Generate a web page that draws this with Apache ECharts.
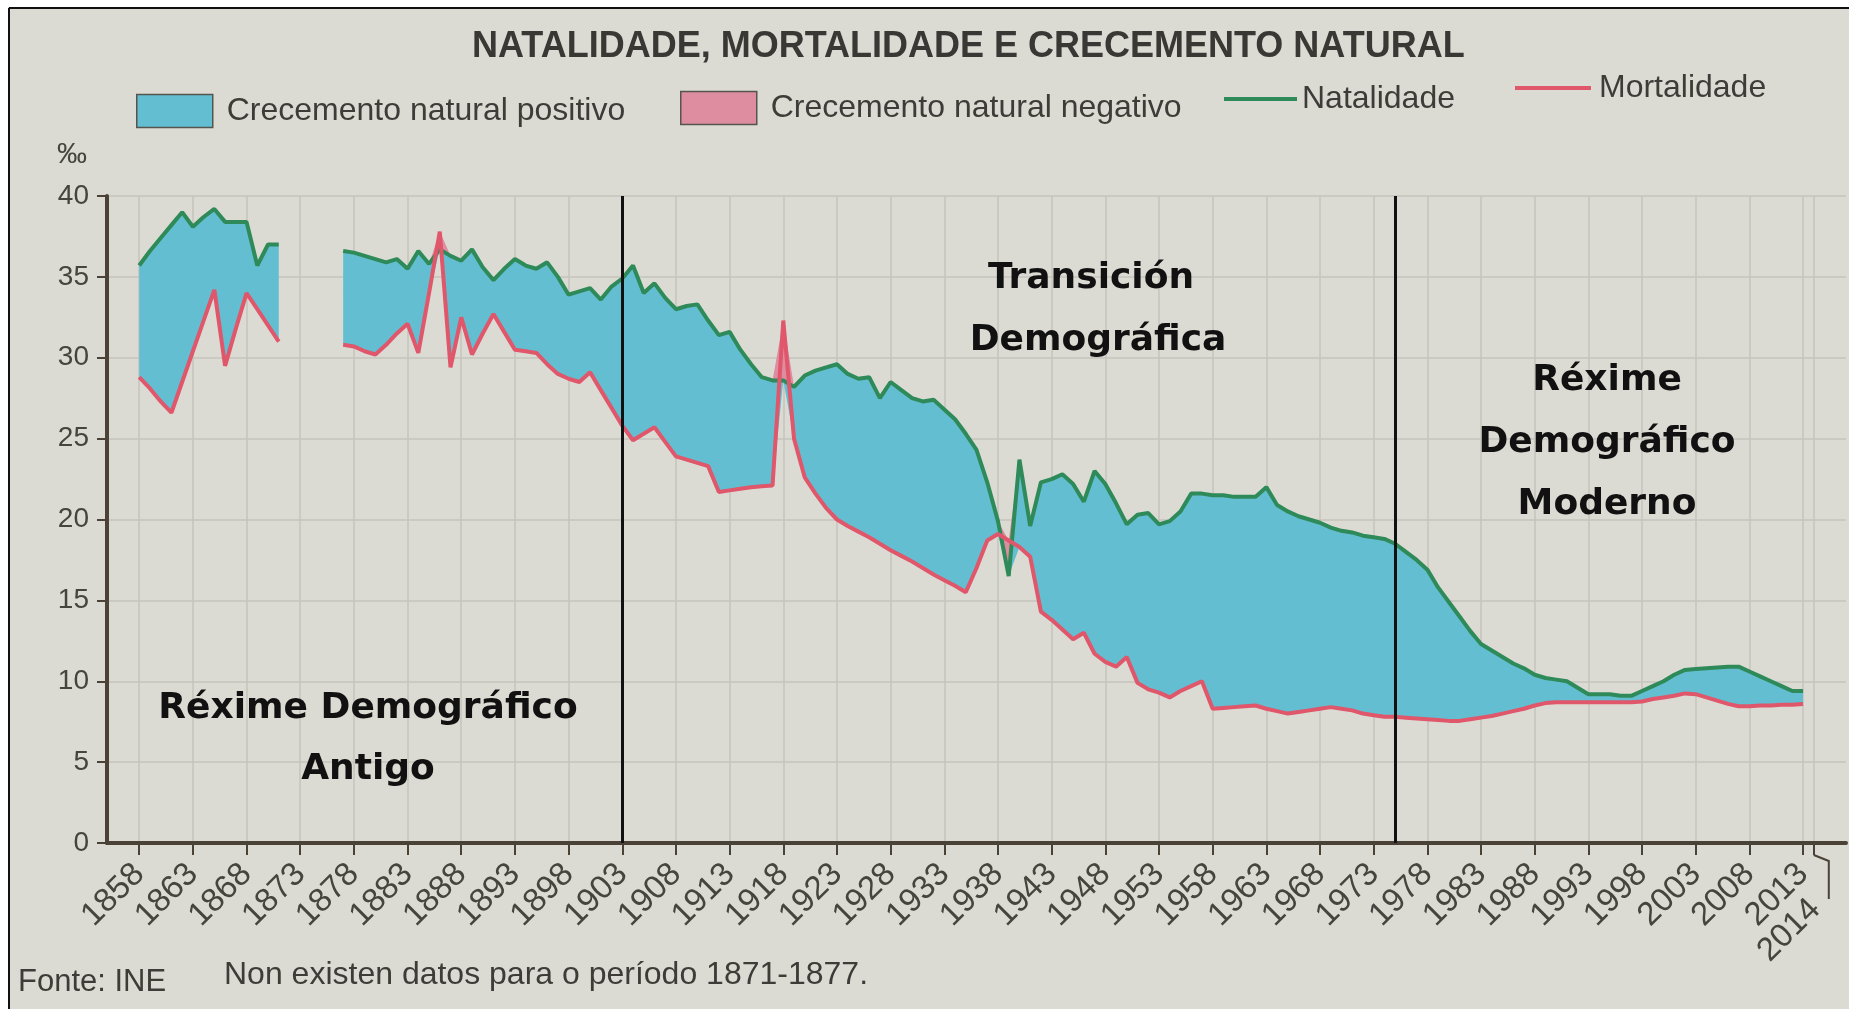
<!DOCTYPE html>
<html>
<head>
<meta charset="utf-8">
<title>Natalidade, mortalidade e crecemento natural</title>
<script src="https://cdn.jsdelivr.net/npm/echarts@6/dist/echarts.min.js"></script>
<style>
  html, body { margin: 0; padding: 0; background: #fff; }
  #chart { width: 1849px; height: 1009px; }
</style>
</head>
<body>
<div id="chart"></div>
<script>
// eixo X: anos (a escala vai un pouco máis alá dos datos)
const firstYear = 1855
const lastYear = 2017
const dataStart = 1858

// anos con marca e etiqueta no eixo
const tickYears = [1858, 1863, 1868, 1873, 1878, 1883, 1888, 1893, 1898, 1903,
  1908, 1913, 1918, 1923, 1928, 1933, 1938, 1943, 1948, 1953, 1958, 1963, 1968,
  1973, 1978, 1983, 1988, 1993, 1998, 2003, 2008, 2013, 2014]

// liñas verticais negras (cambio de réxime)
const phaseYears = ['1903', '1975']

// taxa de natalidade (‰), 1858-2013; null = sen datos
const natalidade = [
  35.7, 36.6, 37.4, 38.2, 39.0, 38.1, 38.7, 39.2, 38.4, 38.4,
  38.4, 35.7, 37.0, 37.0, null, null, null, null, null, 36.6,
  36.5, 36.3, 36.1, 35.9, 36.1, 35.5, 36.6, 35.8, 36.7, 36.3,
  36.0, 36.7, 35.6, 34.8, 35.5, 36.1, 35.7, 35.5, 35.9, 35.0,
  33.9, 34.1, 34.3, 33.6, 34.4, 34.9, 35.7, 34.0, 34.6, 33.7,
  33.0, 33.2, 33.3, 32.3, 31.4, 31.6, 30.5, 29.6, 28.8, 28.6,
  28.6, 28.2, 28.9, 29.2, 29.4, 29.6, 29.0, 28.7, 28.8, 27.5,
  28.5, 28.0, 27.5, 27.3, 27.4, 26.8, 26.2, 25.3, 24.3, 22.3,
  19.9, 16.5, 23.7, 19.6, 22.3, 22.5, 22.8, 22.2, 21.1, 23.0,
  22.2, 21.0, 19.7, 20.3, 20.4, 19.7, 19.9, 20.5, 21.6, 21.6,
  21.5, 21.5, 21.4, 21.4, 21.4, 22.0, 20.9, 20.5, 20.2, 20.0,
  19.8, 19.5, 19.3, 19.2, 19.0, 18.9, 18.8, 18.5, 18.0, 17.5,
  16.9, 15.8, 14.9, 14.0, 13.1, 12.3, 11.9, 11.5, 11.1, 10.8,
  10.4, 10.2, 10.1, 10.0, 9.6, 9.2, 9.2, 9.2, 9.1, 9.1,
  9.4, 9.7, 10.0, 10.4, 10.7, 10.75, 10.8, 10.85, 10.9, 10.9,
  10.6, 10.3, 10.0, 9.7, 9.4, 9.4
]

// taxa de mortalidade (‰), 1858-2013; null = sen datos
const mortalidade = [
  28.8, 28.1, 27.3, 26.6, 28.5, 30.4, 32.3, 34.2, 29.5, 31.8,
  34.0, 33.0, 32.0, 31.0, null, null, null, null, null, 30.8,
  30.7, 30.4, 30.2, 30.8, 31.5, 32.1, 30.3, 34.0, 37.8, 29.4,
  32.5, 30.2, 31.5, 32.7, 31.6, 30.5, 30.4, 30.3, 29.6, 29.0,
  28.7, 28.5, 29.1, 28.0, 26.9, 25.8, 24.9, 25.3, 25.7, 24.8,
  23.9, 23.7, 23.5, 23.3, 21.7, 21.8, 21.9, 22.0, 22.05, 22.1,
  32.3, 25.0, 22.6, 21.6, 20.7, 20.0, 19.6, 19.25, 18.9, 18.5,
  18.1, 17.75, 17.4, 17.0, 16.6, 16.25, 15.9, 15.5, 17.0, 18.7,
  19.1, 18.7, 18.3, 17.7, 14.3, 13.8, 13.2, 12.6, 13.0, 11.7,
  11.2, 10.9, 11.5, 9.9, 9.5, 9.3, 9.0, 9.4, 9.7, 10.0,
  8.3, 8.35, 8.4, 8.45, 8.5, 8.3, 8.15, 8.0, 8.1, 8.2,
  8.3, 8.4, 8.3, 8.2, 8.0, 7.9, 7.8, 7.8, 7.75, 7.7,
  7.65, 7.6, 7.55, 7.55, 7.65, 7.75, 7.85, 8.0, 8.15, 8.3,
  8.5, 8.65, 8.7, 8.7, 8.7, 8.7, 8.7, 8.7, 8.7, 8.7,
  8.75, 8.9, 9.0, 9.1, 9.25, 9.2, 9.0, 8.8, 8.6, 8.45,
  8.45, 8.5, 8.5, 8.55, 8.55, 8.6
]

const paper = '#dcdbd3'
const gridColor = '#c5c3bc'
const axisColor = '#4a4236'
const textColor = '#3d3c38'
const blueFill = '#64bed1'
const pinkFill = '#de8ca0'
const greenLine = '#2e8a58'
const redLine = '#e0566a'

// anos do eixo e series aliñadas con eles
const years = []
const nat = []
const mort = []
for (let y = firstYear; y <= lastYear; y++) {
  years.push(String(y))
  const i = y - dataStart
  nat.push(i >= 0 && i < natalidade.length ? natalidade[i] : null)
  mort.push(i >= 0 && i < mortalidade.length ? mortalidade[i] : null)
}

// bandas apiladas: base = mínimo, logo a diferenza positiva ou negativa
const base = nat.map((n, i) => (n == null || mort[i] == null) ? null : Math.min(n, mort[i]))
const positivo = nat.map((n, i) => (n == null || mort[i] == null) ? null : Math.max(n - mort[i], 0))
const negativo = nat.map((n, i) => (n == null || mort[i] == null) ? null : Math.max(mort[i] - n, 0))

const isTick = (index, value) => tickYears.indexOf(Number(value !== undefined ? value : years[index])) >= 0

const legendText = {
  fontFamily: 'Liberation Sans',
  fontSize: 32,
  lineHeight: 36,
  color: textColor
}

const option = {
  backgroundColor: paper,
  animation: false,
  title: {
    text: 'NATALIDADE, MORTALIDADE E CRECEMENTO NATURAL',
    left: 467,
    top: 24,
    textStyle: {
      fontFamily: 'Liberation Sans',
      fontSize: 36,
      fontWeight: 'bold',
      color: '#3a3834'
    }
  },
  legend: [
    {
      data: [{ name: 'Crecemento natural positivo', icon: 'rect',
        itemStyle: { color: blueFill, borderColor: '#55554f', borderWidth: 1.5 } }],
      left: 136, top: 93, padding: 0,
      itemWidth: 76, itemHeight: 33,
      selectedMode: false,
      textStyle: Object.assign({}, legendText, { padding: [0, 0, 0, 9] })
    },
    {
      data: [{ name: 'Crecemento natural negativo', icon: 'rect',
        itemStyle: { color: pinkFill, borderColor: '#55554f', borderWidth: 1.5 } }],
      left: 680, top: 90, padding: 0,
      itemWidth: 76, itemHeight: 33,
      selectedMode: false,
      textStyle: Object.assign({}, legendText, { padding: [0, 0, 0, 9] })
    },
    {
      data: [{ name: 'Natalidade', icon: 'rect', itemStyle: { color: greenLine } }],
      left: 1224, top: 81, padding: 0,
      itemWidth: 73, itemHeight: 4,
      selectedMode: false,
      textStyle: legendText
    },
    {
      data: [{ name: 'Mortalidade', icon: 'rect', itemStyle: { color: redLine } }],
      left: 1515, top: 70, padding: 0,
      itemWidth: 76, itemHeight: 4,
      selectedMode: false,
      textStyle: Object.assign({}, legendText, { padding: [0, 0, 0, 3] })
    }
  ],
  grid: {
    left: 107,
    right: 3,
    top: 196,
    bottom: 166
  },
  xAxis: {
    type: 'category',
    data: years,
    boundaryGap: false,
    axisLine: { lineStyle: { color: axisColor, width: 4 } },
    axisTick: {
      interval: isTick,
      length: 12,
      lineStyle: { color: axisColor, width: 2 }
    },
    axisLabel: {
      interval: isTick,
      rotate: 45,
      margin: 26,
      fontFamily: 'Liberation Sans',
      fontSize: 33,
      color: '#45443f',
      formatter: v => v === '2014' ? '{late|2014}' : v,
      rich: {
        late: {
          fontFamily: 'Liberation Sans',
          fontSize: 33,
          color: '#45443f',
          padding: [52, 24, 0, 0]
        }
      }
    },
    splitLine: {
      show: true,
      interval: isTick,
      lineStyle: { color: gridColor, width: 1.5 }
    }
  },
  yAxis: {
    type: 'value',
    min: 0,
    max: 40,
    interval: 5,
    name: '‰',
    nameLocation: 'end',
    nameGap: 26,
    nameTextStyle: {
      fontFamily: 'Liberation Sans',
      fontSize: 30,
      color: '#45443f',
      align: 'right',
      padding: [0, 20, 0, 0]
    },
    axisLine: { show: true, lineStyle: { color: axisColor, width: 4 } },
    axisTick: { show: true, length: 10, lineStyle: { color: axisColor, width: 2 } },
    axisLabel: {
      margin: 18,
      fontFamily: 'Liberation Sans',
      fontSize: 28,
      color: '#45443f'
    },
    splitLine: { show: true, lineStyle: { color: gridColor, width: 1.5 } }
  },
  series: [
    {
      name: 'base',
      type: 'line',
      stack: 'banda',
      data: base,
      symbol: 'none',
      silent: true,
      lineStyle: { width: 0, opacity: 0 },
      z: 2
    },
    {
      name: 'Crecemento natural positivo',
      type: 'line',
      stack: 'banda',
      data: positivo,
      symbol: 'none',
      silent: true,
      itemStyle: { color: blueFill },
      lineStyle: { width: 0, opacity: 0 },
      areaStyle: { color: blueFill, opacity: 1 },
      z: 2
    },
    {
      name: 'Crecemento natural negativo',
      type: 'line',
      stack: 'banda',
      data: negativo,
      symbol: 'none',
      silent: true,
      itemStyle: { color: pinkFill },
      lineStyle: { width: 0, opacity: 0 },
      areaStyle: { color: pinkFill, opacity: 1 },
      z: 2
    },
    {
      name: 'Natalidade',
      type: 'line',
      data: nat,
      symbol: 'none',
      itemStyle: { color: greenLine },
      lineStyle: { color: greenLine, width: 4 },
      z: 4
    },
    {
      name: 'Mortalidade',
      type: 'line',
      data: mort,
      symbol: 'none',
      itemStyle: { color: redLine },
      lineStyle: { color: redLine, width: 4 },
      z: 4,
      markLine: {
        silent: true,
        symbol: ['none', 'none'],
        label: { show: false },
        lineStyle: { color: '#111', width: 3, type: 'solid' },
        data: phaseYears.map(y => ({ xAxis: y }))
      }
    }
  ]
}

const chart = echarts.init(document.getElementById('chart'))
chart.setOption(option)

// trazo guía da etiqueta 2014 e textos sobre o gráfico
const x2014 = chart.convertToPixel({ xAxisIndex: 0 }, '2014')
const y0 = chart.convertToPixel({ yAxisIndex: 0 }, 0)

const noteFont = 'bold 36px "DejaVu Sans"'
const note = (text, x, y) => ({
  type: 'text', x: x, y: y, silent: true,
  style: { text: text, font: noteFont, fill: '#111', align: 'center', verticalAlign: 'middle' }
})

chart.setOption({
  graphic: [
    { type: 'rect', shape: { x: 0, y: 0, width: 1849, height: 7 }, style: { fill: '#fff' }, silent: true },
    { type: 'rect', shape: { x: 0, y: 0, width: 8, height: 1009 }, style: { fill: '#fff' }, silent: true },
    { type: 'line', shape: { x1: 9, y1: 8, x2: 1849, y2: 8 }, style: { stroke: '#111', lineWidth: 2 }, silent: true },
    { type: 'line', shape: { x1: 9, y1: 8, x2: 9, y2: 1009 }, style: { stroke: '#111', lineWidth: 2 }, silent: true },
    {
      type: 'polyline', silent: true,
      shape: { points: [[x2014, y0 + 12], [x2014 + 15, y0 + 18], [x2014 + 15, y0 + 56]] },
      style: { stroke: axisColor, lineWidth: 2, fill: null }
    },
    note('Réxime Demográfico', 368, 709),
    note('Antigo', 368, 770),
    note('Transición', 1091, 279),
    note('Demográfica', 1098, 341),
    note('Réxime', 1607, 381),
    note('Demográfico', 1607, 443),
    note('Moderno', 1607, 505),
    {
      type: 'text', x: 18, y: 982, silent: true,
      style: { text: 'Fonte: INE', font: '31px "Liberation Sans"', fill: textColor, verticalAlign: 'middle' }
    },
    {
      type: 'text', x: 224, y: 975, silent: true,
      style: { text: 'Non existen datos para o período 1871-1877.', font: '32px "Liberation Sans"', fill: textColor, verticalAlign: 'middle' }
    }
  ]
})
</script>
</body>
</html>
